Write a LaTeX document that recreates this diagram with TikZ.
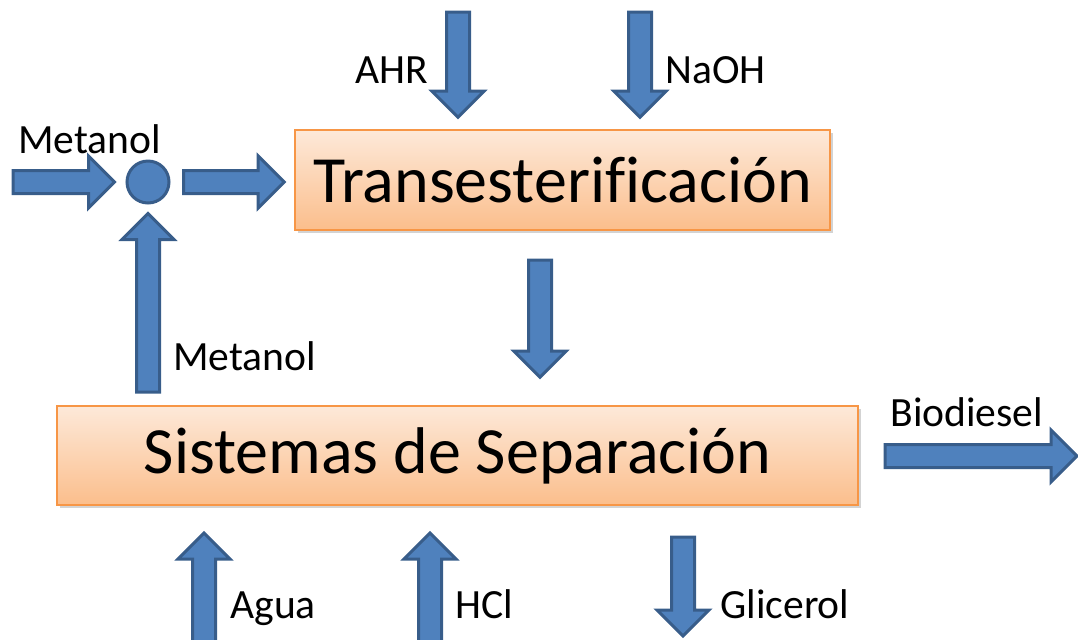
\documentclass[tikz,border=0pt]{standalone}
\usepackage{fontspec}
\setmainfont{Carlito}[Ligatures=NoCommon]
\usetikzlibrary{calc,shadows}

\definecolor{arrowfill}{RGB}{79,129,189}
\definecolor{arrowedge}{RGB}{56,93,138}
\definecolor{boxedge}{RGB}{247,150,70}
\definecolor{boxtop}{RGB}{253,233,217}
\definecolor{boxbottom}{RGB}{251,190,140}

\tikzset{
    % block arrow drawn between two named points
    fat/.style={draw=arrowedge, fill=arrowfill, line width=1.5pt, line join=miter,
        to path={
            ($(\tikztostart)!5.75pt!90:(\tikztotarget)$)
            -- ($(\tikztotarget)!13pt!(\tikztostart)!5.75pt!-90:(\tikztostart)$)
            -- ($(\tikztotarget)!13pt!(\tikztostart)!13pt!-90:(\tikztostart)$)
            -- (\tikztotarget)
            -- ($(\tikztotarget)!13pt!(\tikztostart)!13pt!90:(\tikztostart)$)
            -- ($(\tikztotarget)!13pt!(\tikztostart)!5.75pt!90:(\tikztostart)$)
            -- ($(\tikztostart)!5.75pt!-90:(\tikztotarget)$)
            -- cycle}},
    process/.style={draw=boxedge, line width=0.8pt, top color=boxtop, bottom color=boxbottom,
        drop shadow={shadow xshift=1.5pt, shadow yshift=-1.5pt, opacity=0.35},
        font=\fontsize{33}{40}\selectfont, inner sep=0pt},
    lbl/.style={anchor=base west, inner sep=0pt, font=\fontsize{20.8}{24}\selectfont}
}

\begin{document}
\begin{tikzpicture}[x=0.5pt,y=-0.5pt]
    \useasboundingbox (0,0) rectangle (1078,639);

    % main blocks
    \node[process, minimum width=267.5pt, minimum height=50pt] (trans) at (562.5,180) {Transesterificación};
    \node[process, minimum width=400.5pt, minimum height=49.5pt] (sep) at (457.5,455.5) {Sistemas de Separación};
    \node[circle, draw=arrowedge, fill=arrowfill, line width=1.5pt, minimum size=21pt, inner sep=0pt] (mix) at (148,182) {};

    % ends of the block arrows
    \coordinate (ahr-s) at (458,12);
    \coordinate (ahr-e) at ([yshift=6pt]trans.north -| ahr-s);
    \coordinate (naoh-s) at (640,12);
    \coordinate (naoh-e) at ([yshift=6pt]trans.north -| naoh-s);
    \coordinate (met-s) at (13,182);
    \coordinate (met-e) at ([xshift=-5.5pt]mix.west);
    \coordinate (mix-s) at ([xshift=6.5pt]mix.east);
    \coordinate (mix-e) at ([xshift=-5pt]mix -| trans.west);
    \coordinate (rec-s) at ([yshift=6.5pt]mix |- sep.north);
    \coordinate (rec-e) at ([yshift=-4.5pt]mix.south);
    \coordinate (trans-s) at (540,260);
    \coordinate (trans-e) at ([yshift=14pt]trans-s |- sep.north);
    \coordinate (bio-s) at (885,456);
    \coordinate (bio-e) at (1077,456);
    \coordinate (agua-s) at (204,648);
    \coordinate (agua-e) at (204,533);
    \coordinate (hcl-s) at (430,648);
    \coordinate (hcl-e) at (430,533);
    \coordinate (gli-s) at (683,537);
    \coordinate (gli-e) at (683,636);

    \draw[fat] (ahr-s) to (ahr-e);
    \draw[fat] (naoh-s) to (naoh-e);
    \draw[fat] (met-s) to (met-e);
    \draw[fat] (mix-s) to (mix-e);
    \draw[fat] (rec-s) to (rec-e);
    \draw[fat] (trans-s) to (trans-e);
    \draw[fat] (bio-s) to (bio-e);
    \draw[fat] (agua-s) to (agua-e);
    \draw[fat] (hcl-s) to (hcl-e);
    \draw[fat] (gli-s) to (gli-e);

    % stream names
    \node[lbl] (ahr) at (355,83) {AHR};
    \node[lbl] (naoh) at (665,83) {NaOH};
    \node[lbl] (met-in) at (18,153) {Metanol};
    \node[lbl] (met-rec) at (173,370) {Metanol};
    \node[lbl] (bio) at (890,426) {Biodiesel};
    \node[lbl] (agua) at (230,618) {Agua};
    \node[lbl] (hcl) at (455,618) {HCl};
    \node[lbl] (gli) at (720,618) {Glicerol};
\end{tikzpicture}
\end{document}
